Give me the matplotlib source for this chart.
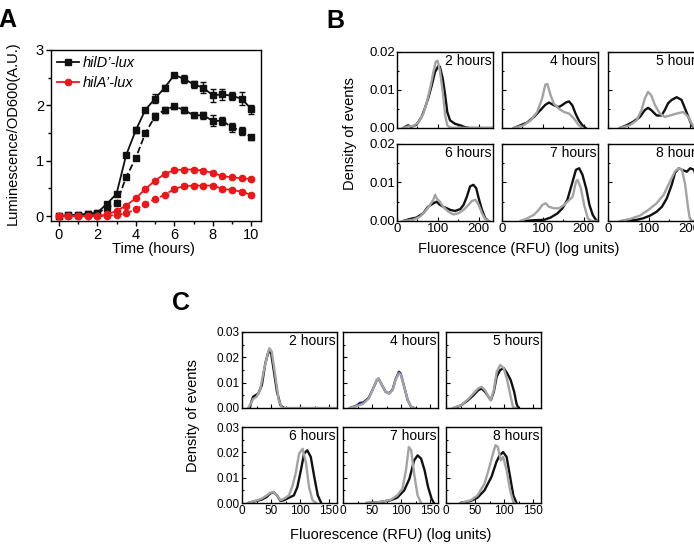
import numpy as np
import matplotlib
matplotlib.use("Agg")
import matplotlib.pyplot as plt
from matplotlib.ticker import MultipleLocator
from matplotlib.lines import Line2D

plt.rcParams['font.family'] = ['Liberation Sans', 'DejaVu Sans']

# ---------------- Panel A data ----------------
time_h = [0, 0.5, 1, 1.5, 2, 2.5, 3, 3.5, 4, 4.5, 5, 5.5, 6, 6.5, 7, 7.5, 8, 8.5, 9, 9.5, 10]
hilD_solid = [0, 0.01, 0.02, 0.04, 0.06, 0.22, 0.40, 1.10, 1.55, 1.92, 2.12, 2.32, 2.55, 2.48, 2.38, 2.32, 2.18, 2.20, 2.17, 2.12, 1.93]
hilD_solid_err = [0.01, 0.01, 0.01, 0.01, 0.02, 0.04, 0.04, 0.04, 0.05, 0.04, 0.08, 0.05, 0.04, 0.07, 0.06, 0.10, 0.12, 0.10, 0.07, 0.12, 0.08]
hilD_dash = [0, 0.01, 0.02, 0.03, 0.05, 0.15, 0.23, 0.70, 1.05, 1.50, 1.80, 1.92, 1.98, 1.92, 1.82, 1.82, 1.72, 1.72, 1.60, 1.54, 1.42]
hilD_dash_err = [0.01, 0.01, 0.01, 0.01, 0.02, 0.03, 0.03, 0.03, 0.04, 0.04, 0.07, 0.05, 0.05, 0.05, 0.05, 0.06, 0.10, 0.07, 0.08, 0.07, 0.05]
hilA_solid = [0, 0, 0, 0, 0, 0.03, 0.09, 0.19, 0.32, 0.49, 0.64, 0.76, 0.83, 0.84, 0.84, 0.82, 0.78, 0.72, 0.70, 0.68, 0.67]
hilA_solid_err = [0.01, 0.01, 0.01, 0.01, 0.01, 0.01, 0.02, 0.02, 0.02, 0.02, 0.03, 0.03, 0.03, 0.03, 0.03, 0.03, 0.03, 0.03, 0.03, 0.03, 0.03]
hilA_dash = [0, 0, 0, 0, 0, 0, 0.02, 0.05, 0.12, 0.22, 0.31, 0.38, 0.49, 0.54, 0.55, 0.55, 0.55, 0.49, 0.47, 0.44, 0.38]
hilA_dash_err = [0.01, 0.01, 0.01, 0.01, 0.01, 0.01, 0.02, 0.02, 0.02, 0.02, 0.02, 0.02, 0.03, 0.03, 0.03, 0.03, 0.03, 0.03, 0.03, 0.03, 0.04]
legend_labels = ["hilD\u2019-lux", "hilA\u2019-lux"]

# ---------------- Panel B data (density vs fluorescence) ----------------
b_titles = ["2 hours", "4 hours", "5 hours", "6 hours", "7 hours", "8 hours"]

b2_blk_x = [15, 27, 35, 48, 60, 68, 76, 85, 93, 101, 105, 112, 118, 123, 130, 142, 155, 167, 179, 235]
b2_blk_y = [0, 0.0007, 0.0003, 0.0009, 0.0029, 0.0051, 0.0077, 0.0112, 0.0147, 0.0163, 0.0161, 0.0130, 0.0086, 0.0042, 0.0020, 0.0011, 0.0007, 0.0002, 0, 0]
b2_gry_x = [15, 27, 39, 52, 64, 72, 81, 89, 95, 99.5, 105, 112, 118, 123, 130, 187, 235]
b2_gry_y = [0, 0.0004, 0.0005, 0.0014, 0.0037, 0.0064, 0.0104, 0.0147, 0.0175, 0.0177, 0.0151, 0.0095, 0.0033, 0.0007, 0.0001, 0, 0]

b4_blk_x = [29, 45, 61, 78, 94, 106, 115, 127, 139, 147, 156, 164, 172, 180, 188, 197, 205]
b4_blk_y = [0, 0.0007, 0.0014, 0.0029, 0.0047, 0.0061, 0.0067, 0.0060, 0.0055, 0.0060, 0.0067, 0.0070, 0.0060, 0.0038, 0.0020, 0.0007, 0]
b4_gry_x = [29, 53, 70, 86, 98, 106, 111, 119, 127, 139, 152, 164, 176, 188, 197]
b4_gry_y = [0, 0.0007, 0.0020, 0.0042, 0.0077, 0.0114, 0.0116, 0.0086, 0.0064, 0.0051, 0.0042, 0.0038, 0.0025, 0.0007, 0]

b5_blk_x = [29, 45, 61, 78, 90, 98, 106, 119, 131, 139, 147, 156, 168, 180, 192, 205, 213]
b5_blk_y = [0, 0.0007, 0.0016, 0.0029, 0.0047, 0.0053, 0.0047, 0.0033, 0.0033, 0.0047, 0.0065, 0.0074, 0.0081, 0.0074, 0.0042, 0.0007, 0]
b5_gry_x = [29, 53, 70, 82, 90, 98, 106, 115, 127, 139, 152, 168, 184, 197, 205, 213]
b5_gry_y = [0, 0.0007, 0.0020, 0.0047, 0.0077, 0.0095, 0.0086, 0.0060, 0.0038, 0.0029, 0.0033, 0.0038, 0.0042, 0.0029, 0.0011, 0]

b6_blk_x = [15, 31, 48, 64, 76, 89, 97, 105, 113, 122, 130, 142, 155, 163, 171, 179, 187, 194, 200, 208, 216, 224]
b6_blk_y = [0, 0.0005, 0.0009, 0.0020, 0.0037, 0.0046, 0.0050, 0.0042, 0.0037, 0.0033, 0.0029, 0.0026, 0.0031, 0.0042, 0.0063, 0.0090, 0.0094, 0.0085, 0.0059, 0.0029, 0.0007, 0]
b6_gry_x = [15, 39, 56, 68, 81, 89, 93, 97, 105, 113, 126, 138, 150, 163, 175, 183, 192, 200, 208, 216, 224]
b6_gry_y = [0, 0.0003, 0.0011, 0.0024, 0.0042, 0.0055, 0.0068, 0.0059, 0.0050, 0.0037, 0.0024, 0.0017, 0.0020, 0.0029, 0.0042, 0.0052, 0.0055, 0.0042, 0.0020, 0.0005, 0]

b7_blk_x = [53, 78, 103, 119, 136, 148, 160, 173, 181, 189, 197, 206, 214, 222, 230, 234]
b7_blk_y = [0, 0.0002, 0.0003, 0.0009, 0.0020, 0.0033, 0.0055, 0.0103, 0.0133, 0.0137, 0.0120, 0.0085, 0.0042, 0.0016, 0.0003, 0]
b7_gry_x = [45, 62, 78, 90, 99, 107, 115, 127, 140, 152, 160, 173, 181, 185, 193, 201, 210, 218, 234]
b7_gry_y = [0, 0.0007, 0.0016, 0.0029, 0.0042, 0.0046, 0.0037, 0.0033, 0.0033, 0.0042, 0.0050, 0.0063, 0.0102, 0.0107, 0.0085, 0.0042, 0.0007, 0, 0]

b8_blk_x = [37, 70, 86, 103, 119, 132, 144, 156, 164, 173, 181, 193, 201, 211, 220, 228, 235]
b8_blk_y = [0, 0.0003, 0.0007, 0.0014, 0.0024, 0.0037, 0.0059, 0.0094, 0.0125, 0.0137, 0.0133, 0.0128, 0.0137, 0.0133, 0.0090, 0.0030, 0]
b8_gry_x = [29, 53, 78, 99, 119, 136, 152, 164, 173, 181, 189, 195, 200, 206, 235]
b8_gry_y = [0, 0.0005, 0.0014, 0.0029, 0.0046, 0.0068, 0.0103, 0.0129, 0.0137, 0.0133, 0.0094, 0.0042, 0.0007, 0, 0]

# ---------------- Panel C data ----------------
c_titles = ["2 hours", "4 hours", "5 hours", "6 hours", "7 hours", "8 hours"]

c2_blk_x = [13.4, 16, 19, 23, 28, 34, 40, 45.5, 50, 54, 60, 66, 72]
c2_blk_y = [0, 0.0024, 0.0044, 0.0050, 0.0057, 0.0090, 0.0176, 0.0223, 0.0216, 0.0156, 0.0064, 0.0011, 0]
c2_gry_x = [10.5, 15, 19, 25, 31, 37, 43, 47, 51, 57, 63, 69, 163]
c2_gry_y = [0, 0.0017, 0.0035, 0.0044, 0.0070, 0.0143, 0.0203, 0.0236, 0.0223, 0.0130, 0.0031, 0, 0]

c4_blk_x = [11.7, 23, 29, 35, 44, 52, 58, 61, 67, 73, 79, 85, 90, 96, 99, 105, 111, 117, 122]
c4_blk_y = [0, 0.0009, 0.0020, 0.0022, 0.0040, 0.0078, 0.0110, 0.0116, 0.0090, 0.0064, 0.0058, 0.0072, 0.0112, 0.0143, 0.0136, 0.0084, 0.0031, 0.0004, 0]
c4_gry_x = [11.7, 23, 35, 44, 52, 58, 61, 67, 73, 79, 85, 90, 96, 99, 105, 111, 117, 122]
c4_gry_y = [0, 0.0007, 0.0017, 0.0037, 0.0077, 0.0110, 0.0117, 0.0090, 0.0064, 0.0057, 0.0070, 0.0110, 0.0137, 0.0133, 0.0084, 0.0031, 0.0004, 0]

c5_blk_x = [14.6, 26, 38, 47, 55, 61, 67, 73, 77, 82, 87, 93, 99, 105, 111, 117, 121, 124]
c5_blk_y = [0, 0.0011, 0.0031, 0.0050, 0.0070, 0.0077, 0.0064, 0.0044, 0.0031, 0.0064, 0.0124, 0.0150, 0.0157, 0.0137, 0.0110, 0.0064, 0.0017, 0]
c5_gry_x = [11.7, 26, 38, 47, 55, 61, 67, 73, 77, 82, 87, 93, 99, 105, 111, 115, 120]
c5_gry_y = [0, 0.0011, 0.0035, 0.0057, 0.0077, 0.0084, 0.0070, 0.0044, 0.0031, 0.0070, 0.0143, 0.0170, 0.0157, 0.0110, 0.0044, 0.0004, 0]

c6_blk_x = [10.5, 22, 33.5, 42.5, 48, 54, 60, 66, 72, 80.5, 89, 95, 101, 106.5, 112, 118, 124, 130, 136]
c6_blk_y = [0, 0.0007, 0.0013, 0.0024, 0.0037, 0.0043, 0.0030, 0.0008, 0.0011, 0.0021, 0.0030, 0.0063, 0.0129, 0.0195, 0.0208, 0.0182, 0.0103, 0.0030, 0]
c6_gry_x = [10.5, 22, 33.5, 42.5, 48, 54, 60, 66, 72, 80.5, 86, 92, 98, 104, 110, 115, 121, 127]
c6_gry_y = [0, 0.0008, 0.0017, 0.0030, 0.0040, 0.0043, 0.0030, 0.0011, 0.0017, 0.0030, 0.0063, 0.0116, 0.0195, 0.0214, 0.0155, 0.0063, 0.0011, 0]

c7_blk_x = [41, 64, 82, 93, 105, 114, 122, 128, 134, 140, 146, 152, 156]
c7_blk_y = [0, 0.0004, 0.0011, 0.0021, 0.0050, 0.0096, 0.0168, 0.0188, 0.0175, 0.0129, 0.0063, 0.0017, 0]
c7_gry_x = [41, 64, 82, 93, 102, 108, 113, 117, 122, 128, 134]
c7_gry_y = [0, 0.0004, 0.0013, 0.0030, 0.0057, 0.0129, 0.0221, 0.0208, 0.0116, 0.0030, 0]

c8_blk_x = [25, 42.5, 54, 66, 78, 86.5, 92, 98, 104, 110, 115.5, 121]
c8_blk_y = [0, 0.0008, 0.0021, 0.0050, 0.0103, 0.0162, 0.0188, 0.0201, 0.0182, 0.0103, 0.0030, 0]
c8_gry_x = [25, 42.5, 54, 66, 74.5, 80.5, 85, 89, 94, 98, 104, 110, 115.5, 118]
c8_gry_y = [0, 0.0011, 0.0030, 0.0076, 0.0142, 0.0195, 0.0228, 0.0221, 0.0168, 0.0182, 0.0129, 0.0050, 0.0004, 0]

# ---------------- Figure ----------------
W, H = 694, 548
fig = plt.figure(figsize=(W / 100, H / 100), dpi=100)
fig.patch.set_facecolor('white')

def ax_px(l, t, r, b):
    return fig.add_axes([l / W, 1 - b / H, (r - l) / W, (b - t) / H])

BLACK = '#111111'
GRAY = '#a3a3a3'
RED = '#e8191c'

# Panel A
axA = ax_px(51, 50, 261, 221)
ekw = dict(capsize=2, elinewidth=1, capthick=1, markersize=4.5, linewidth=1.3)
axA.errorbar(time_h, hilD_solid, yerr=hilD_solid_err, color=BLACK, marker='s', ls='-', **ekw)
axA.errorbar(time_h, hilD_dash, yerr=hilD_dash_err, color=BLACK, marker='s', ls='--', **ekw)
axA.errorbar(time_h, hilA_solid, yerr=hilA_solid_err, color=RED, marker='o', ls='-', **ekw)
axA.errorbar(time_h, hilA_dash, yerr=hilA_dash_err, color=RED, marker='o', ls='--', **ekw)
axA.set_xlim(-0.4, 10.5)
axA.set_ylim(-0.09, 3)
axA.xaxis.set_major_locator(MultipleLocator(2))
axA.xaxis.set_minor_locator(MultipleLocator(1))
axA.yaxis.set_major_locator(MultipleLocator(1))
axA.yaxis.set_minor_locator(MultipleLocator(0.5))
axA.tick_params(which='both', direction='out', labelsize=10.5, width=1, pad=1.5)
axA.tick_params(which='major', length=3.5)
axA.tick_params(which='minor', length=2)
for s in axA.spines.values():
    s.set_linewidth(1)
handles = [Line2D([], [], color=BLACK, marker='s', markersize=4.5, lw=1.3),
           Line2D([], [], color=RED, marker='o', markersize=4.5, lw=1.3)]
leg = axA.legend(handles, legend_labels, loc='upper left', frameon=False,
                 prop={'style': 'italic', 'size': 10.5}, handlelength=1.5,
                 handletextpad=0.3, borderaxespad=0.2, borderpad=0.2, labelspacing=0.45)
fig.text(153 / W, 1 - 249 / H, "Time (hours)", ha='center', va='center', fontsize=10.5)
fig.text(13 / W, 1 - 133 / H, "Luminescence/OD600(A.U.)", ha='center', va='center',
         rotation=90, fontsize=10.5)

def density_grid(lefts, width, rows, xlim, ylim, xmajor, xminor, ymajor, yminor,
                 curves, titles, ylabels_fmt, labelsize):
    axes = []
    for r, (t, b) in enumerate(rows):
        for c, l in enumerate(lefts):
            i = r * 3 + c
            ax = ax_px(l, t, l + width, b)
            for (xs, ys, col) in curves[i]:
                ax.plot(xs, ys, color=col, lw=1.7, solid_joinstyle='round')
            ax.set_xlim(*xlim)
            ax.set_ylim(*ylim)
            ax.xaxis.set_major_locator(MultipleLocator(xmajor))
            ax.xaxis.set_minor_locator(MultipleLocator(xminor))
            ax.yaxis.set_major_locator(MultipleLocator(ymajor))
            ax.yaxis.set_minor_locator(MultipleLocator(yminor))
            ax.tick_params(which='both', direction='in', labelsize=labelsize, width=0.8, pad=1.5)
            ax.tick_params(which='major', length=3)
            ax.tick_params(which='minor', length=1.5)
            ax.yaxis.set_major_formatter(plt.FormatStrFormatter(ylabels_fmt))
            if c > 0:
                ax.tick_params(labelleft=False)
            if r == 0:
                ax.tick_params(labelbottom=False)
            for s in ax.spines.values():
                s.set_linewidth(1)
            ax.text(0.985, 0.97, titles[i], transform=ax.transAxes, ha='right', va='top',
                    fontsize=10)
            axes.append(ax)
    return axes

b_curves = [
    [(b2_blk_x, b2_blk_y, BLACK), (b2_gry_x, b2_gry_y, GRAY)],
    [(b4_blk_x, b4_blk_y, BLACK), (b4_gry_x, b4_gry_y, GRAY)],
    [(b5_blk_x, b5_blk_y, BLACK), (b5_gry_x, b5_gry_y, GRAY)],
    [(b6_blk_x, b6_blk_y, BLACK), (b6_gry_x, b6_gry_y, GRAY)],
    [(b7_blk_x, b7_blk_y, BLACK), (b7_gry_x, b7_gry_y, GRAY)],
    [(b8_blk_x, b8_blk_y, BLACK), (b8_gry_x, b8_gry_y, GRAY)],
]
density_grid([397, 502, 608], 96, [(52, 128), (144, 221)], (0, 235), (0, 0.02),
             100, 50, 0.01, 0.005, b_curves, b_titles, '%.2f', 9.5)
fig.text(519 / W, 1 - 249 / H, "Fluorescence (RFU) (log units)", ha='center', va='center', fontsize=10.5)
fig.text(350 / W, 1 - 134 / H, "Density of events", ha='center', va='center', rotation=90, fontsize=10.5)

c_curves = [
    [(c2_blk_x, c2_blk_y, BLACK), (c2_gry_x, c2_gry_y, GRAY)],
    [(c4_blk_x, c4_blk_y, '#23237a'), (c4_gry_x, c4_gry_y, GRAY)],
    [(c5_blk_x, c5_blk_y, BLACK), (c5_gry_x, c5_gry_y, GRAY)],
    [(c6_blk_x, c6_blk_y, BLACK), (c6_gry_x, c6_gry_y, GRAY)],
    [(c7_blk_x, c7_blk_y, BLACK), (c7_gry_x, c7_gry_y, GRAY)],
    [(c8_blk_x, c8_blk_y, BLACK), (c8_gry_x, c8_gry_y, GRAY)],
]
density_grid([242, 343, 446], 95, [(332, 408), (427, 503)], (0, 163), (0, 0.03),
             50, 25, 0.01, 0.005, c_curves, c_titles, '%.2f', 8.5)
fig.text(391 / W, 1 - 535 / H, "Fluorescence (RFU) (log units)", ha='center', va='center', fontsize=10.5)
fig.text(193 / W, 1 - 416 / H, "Density of events", ha='center', va='center', rotation=90, fontsize=10.5)

# Panel letters
fig.text(7 / W, 1 - 20 / H, "A", ha='center', va='center', fontsize=18, fontweight='bold')
fig.text(335 / W, 1 - 21 / H, "B", ha='center', va='center', fontsize=18, fontweight='bold')
fig.text(181 / W, 1 - 303 / H, "C", ha='center', va='center', fontsize=18, fontweight='bold')

fig.savefig("out.png", dpi=100, facecolor='white')
